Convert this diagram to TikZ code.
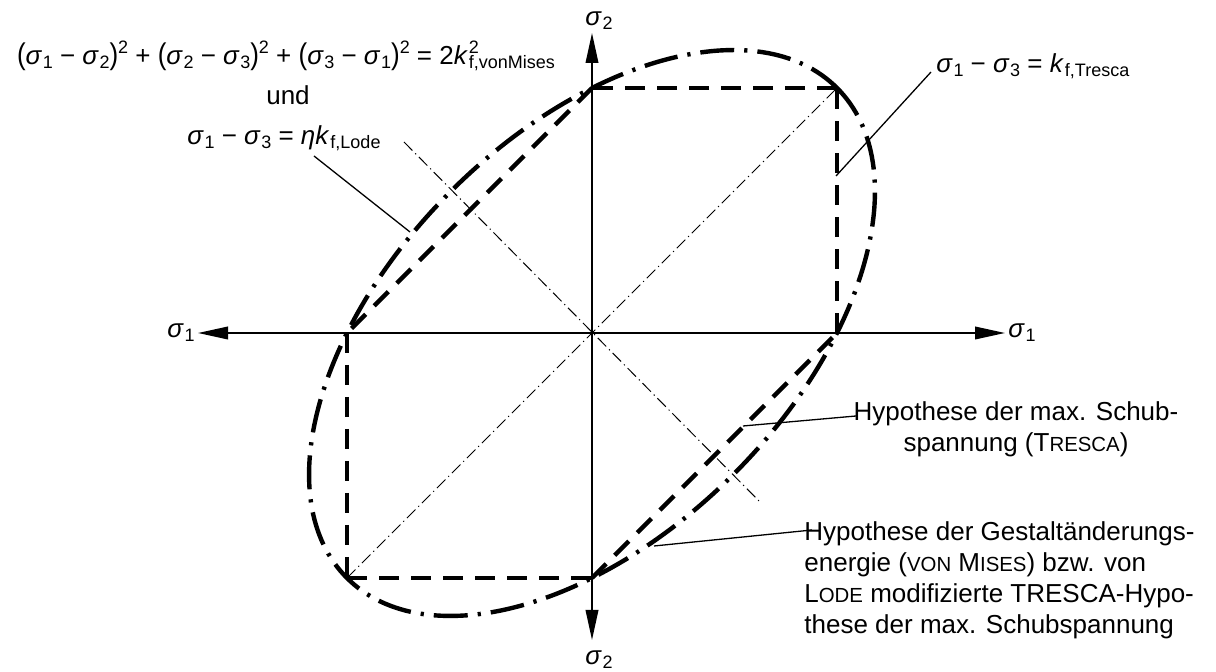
\documentclass[tikz,border=0pt]{standalone}
\usepackage{fontspec}
\usepackage{graphicx}
\setmainfont{Liberation Sans}
\usetikzlibrary{arrows.meta}
\newcommand{\subsz}{\fontsize{9}{9}\selectfont}
\newcommand{\sgm}[1]{\textit{σ}\kern0.3pt\raisebox{-2pt}{\subsz #1}}
\newcommand{\sps}[1]{\raisebox{5.5pt}{\subsz #1}}
\newcommand{\ksup}[2]{\textit{k}\kern0.5pt\rlap{\raisebox{5.5pt}{\subsz #1}}\raisebox{-2pt}{\subsz #2}}
\newcommand{\ksub}[1]{\textit{k}\kern0.5pt\raisebox{-2pt}{\subsz #1}}
\newcommand{\lp}{\scalebox{1}[1.15]{(}}
\newcommand{\rp}{\scalebox{1}[1.15]{)}}
\newcommand{\fsc}[1]{{\fontsize{10.2}{12}\selectfont #1}}
\tikzset{
  every node/.style={inner sep=0pt, font=\fontsize{13}{15.5}\selectfont},
  axisline/.style={line width=0.9pt, {Triangle[length=15pt,width=6.3pt]}-{Triangle[length=15pt,width=6.3pt]}},
  hexa/.style={line width=2.2pt, dash pattern=on 10pt off 6pt},
  vmline/.style={line width=2.2pt, dash pattern=on 17pt off 5pt on 1.6pt off 5pt},
  thinline/.style={line width=0.5pt, dash pattern=on 6pt off 2pt on 0.6pt off 2pt},
  leader/.style={line width=0.65pt}
}
\begin{document}
\begin{tikzpicture}[x=0.5pt,y=-0.5pt]
\useasboundingbox (0,0) rectangle (1216,672);
% key points
\coordinate (O) at (592,333);
\coordinate (A) at (837,333);
\coordinate (B) at (837,88);
\coordinate (C) at (592,88);
\coordinate (D) at (347,333);
\coordinate (E) at (347,578);
\coordinate (F) at (592,578);
% axes
\coordinate (xl) at (198,333);
\coordinate (xr) at (1005,333);
\coordinate (yt) at (592,33);
\coordinate (yb) at (592,640);
\draw[axisline] (xl) -- (xr);
\draw[axisline] (yb) -- (yt);
% axis labels
\node[anchor=west] (s1r) at (1008,333) {\sgm{1}};
\node[anchor=east] (s1l) at (195,333) {\sgm{1}};
\node (s2t) at (599,21) {\sgm{2}};
\node (s2b) at (599,660) {\sgm{2}};
% thin dash-dot lines
\coordinate (p1) at (404,142);
\coordinate (p2) at (760,502);
\draw[thinline] (E) -- (B);
\draw[thinline] (p1) -- (p2);
% Tresca hexagon
\draw[hexa] (A) -- (B);
\draw[hexa] (B) -- (C);
\draw[hexa] (C) -- (D);
\draw[hexa] (D) -- (E);
\draw[hexa] (E) -- (F);
\draw[hexa] (F) -- (A);
% von Mises ellipse
\draw[vmline, rotate around={45:(O)}] (O) ellipse [x radius=346.5, y radius=200];
% formulas
\node[anchor=base] (vm) at (286,65) {\lp\sgm{1} − \sgm{2}\rp\sps{2} + \lp\sgm{2} − \sgm{3}\rp\sps{2} + \lp\sgm{3} − \sgm{1}\rp\sps{2} = 2\ksup{2}{f,vonMises}};
\node[anchor=base] (und) at (288,105) {und};
\node[anchor=base] (lode) at (284,145) {\sgm{1} − \sgm{3} = \textit{η}\ksub{f,Lode}};
\node[anchor=base west] (tf) at (936,73) {\sgm{1} − \sgm{3} = \ksub{f,Tresca}};
% labels
\node[anchor=north, align=center] (tr) at (1016,401) {Hypothese der max. Schub-\\spannung (T\fsc{RESCA})};
\node[anchor=north west, align=left] (gh) at (804,521) {Hypothese der Gestaltänderungs-\\energie (\fsc{VON} M\fsc{ISES}) bzw. von\\L\fsc{ODE} modifizierte TRESCA-Hypo-\\these der max. Schubspannung};
% leaders
\coordinate (l1) at (314,156);
\coordinate (l2) at (410,232);
\draw[leader] (l1) -- (l2);
\coordinate (t1) at (836,176);
\coordinate (t2) at (931,72);
\draw[leader] (t1) -- (t2);
\coordinate (r1) at (743,426);
\coordinate (r2) at (856,416);
\draw[leader] (r1) -- (r2);
\coordinate (g1) at (654,546);
\coordinate (g2) at (812,530);
\draw[leader] (g1) -- (g2);
\end{tikzpicture}
\end{document}
